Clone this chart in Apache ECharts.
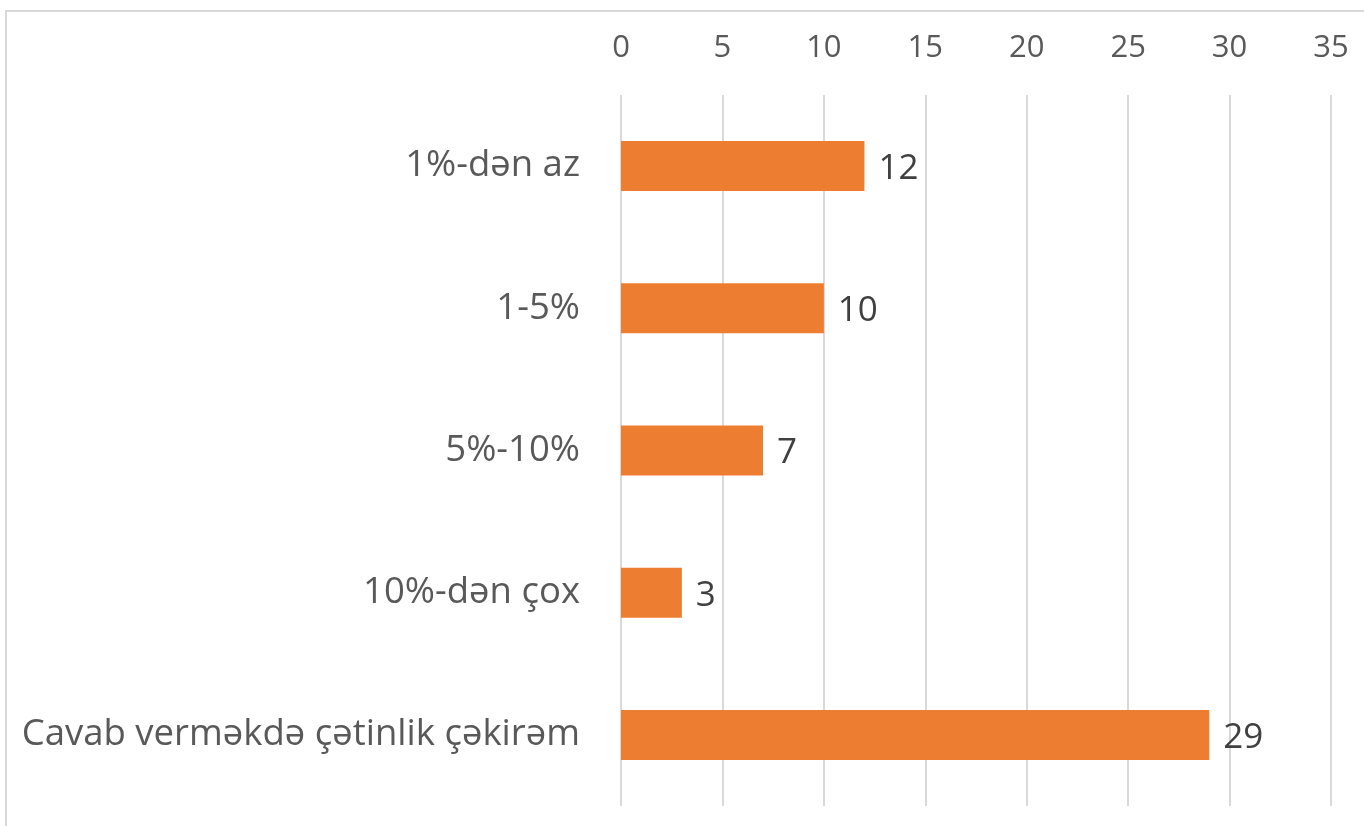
<!DOCTYPE html>
<html>
<head>
<meta charset="utf-8">
<script src="https://cdn.jsdelivr.net/npm/echarts@6/dist/echarts.min.js"></script>
<style>
  html, body { margin: 0; padding: 0; background: #fff; }
  #chart { width: 1364px; height: 826px; }
</style>
</head>
<body>
<div id="chart"></div>
<script>
// Survey answer groups and response counts
const categories = ['1%-dən az', '1-5%', '5%-10%', '10%-dən çox', 'Cavab verməkdə çətinlik çəkirəm'];
const counts = [12, 10, 7, 3, 29];
const axisMin = 0;
const axisMax = 35;
const axisStep = 5;

const chart = echarts.init(document.getElementById('chart'), null, { renderer: 'canvas' });
chart.setOption({
  animation: false,
  backgroundColor: '#ffffff',
  graphic: [{
    type: 'rect',
    shape: { x: 6, y: 11, width: 1400, height: 900 },
    style: { fill: 'none', stroke: '#d9d9d9', lineWidth: 2 },
    silent: true
  }],
  grid: { left: 621, right: 33, top: 95, bottom: 20, containLabel: false },
  xAxis: {
    type: 'value',
    position: 'top',
    min: axisMin,
    max: axisMax,
    interval: axisStep,
    axisLine: { show: false },
    axisTick: { show: false },
    splitLine: { show: true, lineStyle: { color: '#d9d9d9', width: 2 } },
    axisLabel: {
      color: '#595959',
      fontFamily: 'Open Sans',
      fontSize: 31,
      margin: 31
    }
  },
  yAxis: {
    type: 'category',
    data: categories,
    inverse: true,
    axisLine: { show: false },
    axisTick: { show: false },
    axisLabel: {
      color: '#595959',
      fontFamily: 'Open Sans',
      fontSize: 36.5,
      margin: 41,
      padding: [7, 0, 0, 0]
    }
  },
  series: [{
    type: 'bar',
    data: counts,
    barWidth: 50,
    itemStyle: { color: '#ED7D31' },
    label: {
      show: true,
      position: 'right',
      distance: 14,
      offset: [0, 3],
      color: '#404040',
      fontFamily: 'Open Sans',
      fontSize: 35
    }
  }]
});
</script>
</body>
</html>
